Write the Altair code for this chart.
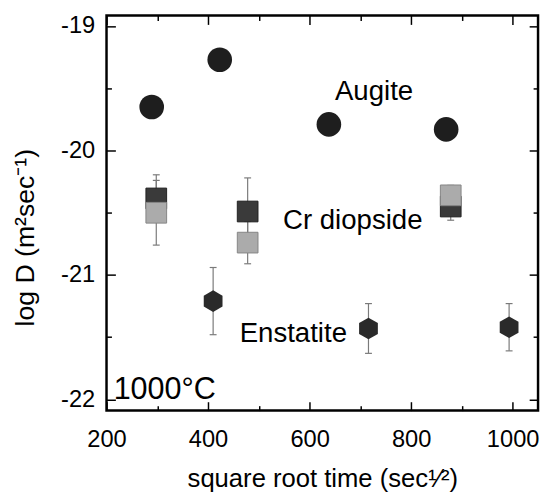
import altair as alt
import pandas as pd

# ---- data ----
augite_x = [289, 423, 638, 869]
augite_y = [-19.65, -19.27, -19.79, -19.83]

diop_x = [298, 478, 878]
diop_dark_y = [-20.385, -20.49, -20.45]
diop_dark_err = [0.19, 0.27, 0.11]
diop_light_y = [-20.50, -20.74, -20.36]
diop_light_err = [0.26, 0.17, 0.08]

enst_x = [410, 716, 993]
enst_y = [-21.21, -21.43, -21.42]
enst_err = [0.27, 0.20, 0.19]

x_major = [200, 400, 600, 800, 1000]
x_minor = [300, 500, 700, 900]
y_major = [-19, -20, -21, -22]
y_minor = [-19.5, -20.5, -21.5]

label_text = ["Augite", "Cr diopside", "Enstatite"]
label_x = [727, 685, 568]
label_y = [-19.59, -20.63, -21.535]

temp_text = ["1000°C"]
temp_x = [214]
temp_y = [-22.0]

x_title = "square root time (sec¹⁄²)"
y_title = "log D (m²sec⁻¹)"

FONT = "Liberation Sans, Arial, Helvetica, sans-serif"
HEX = "M0,-1L0.866,-0.5L0.866,0.5L0,1L-0.866,0.5L-0.866,-0.5Z"

# ---- tables ----
aug = pd.DataFrame({"x": augite_x, "y": augite_y})
dark = pd.DataFrame({"x": diop_x, "y": diop_dark_y, "e": diop_dark_err})
light = pd.DataFrame({"x": diop_x, "y": diop_light_y, "e": diop_light_err})
enst = pd.DataFrame({"x": enst_x, "y": enst_y, "e": enst_err})
err = pd.concat([dark, light, enst], ignore_index=True)
err["lo"] = err["y"] - err["e"]
err["hi"] = err["y"] + err["e"]
caps = pd.DataFrame({"x": list(err["x"]) * 2, "y": list(err["lo"]) + list(err["hi"])})
labels = pd.DataFrame({"x": label_x, "y": label_y, "t": label_text})
temp = pd.DataFrame({"x": temp_x, "y": temp_y, "t": temp_text})

xs = alt.Scale(domain=[200, 1050], nice=False, zero=False)
ys = alt.Scale(domain=[-22.09, -18.915], nice=False, zero=False)

MAJ = 9
MIN = 5


def ax(orient, values, size, **kw):
    return alt.Axis(orient=orient, values=values, tickSize=size, offset=-size,
                    domain=False, grid=False, ticks=True, tickColor="black",
                    tickWidth=1.5, **kw)


def plain(orient, values, size):
    return ax(orient, values, size, labels=False, title=None)


x_bottom = ax("bottom", x_major, MAJ, labels=True, labelFont=FONT, labelFontSize=24,
              labelColor="black", labelPadding=17, labelFlush=False,
              labelExpr="'' + datum.value",
              title=x_title, titleFont=FONT, titleFontSize=26, titleFontWeight="normal",
              titleColor="black", titlePadding=15)
y_left = ax("left", y_major, MAJ, labels=True, labelFont=FONT, labelFontSize=24,
            labelColor="black", labelPadding=12, labelFlush=False,
            labelExpr="'' + datum.value",
            title=y_title, titleFont=FONT, titleFontSize=27, titleFontWeight="normal",
            titleColor="black", titlePadding=21, titleY=225)

bars = alt.Chart(err).mark_rule(color="#7a7a7a", strokeWidth=1.2).encode(
    x=alt.X("x:Q", scale=xs, axis=None),
    y=alt.Y("lo:Q", scale=ys, axis=None),
    y2="hi:Q",
)
cap_marks = alt.Chart(caps).mark_tick(orient="horizontal", size=7, thickness=1.2,
                                      color="#7a7a7a", opacity=1).encode(
    x=alt.X("x:Q", scale=xs, axis=None),
    y=alt.Y("y:Q", scale=ys, axis=None),
)
aug_layer = alt.Chart(aug).mark_point(shape="circle", filled=True, size=625,
                                      color="#1e1e1e", opacity=1).encode(
    x=alt.X("x:Q", scale=xs, axis=x_bottom),
    y=alt.Y("y:Q", scale=ys, axis=y_left),
)
dark_layer = alt.Chart(dark).mark_point(shape="square", filled=True, size=441,
                                        color="#3a3a3a", stroke="#222222",
                                        strokeWidth=1, opacity=1).encode(
    x=alt.X("x:Q", scale=xs, axis=plain("bottom", x_minor, MIN)),
    y=alt.Y("y:Q", scale=ys, axis=plain("left", y_minor, MIN)),
)
light_layer = alt.Chart(light).mark_point(shape="square", filled=True, size=441,
                                          color="#ababab", stroke="#858585",
                                          strokeWidth=1, opacity=1).encode(
    x=alt.X("x:Q", scale=xs, axis=plain("top", x_major, MAJ)),
    y=alt.Y("y:Q", scale=ys, axis=plain("right", y_major, MAJ)),
)
enst_layer = alt.Chart(enst).mark_point(shape=HEX, filled=True, size=484,
                                        color="#2a2a2a", opacity=1).encode(
    x=alt.X("x:Q", scale=xs, axis=plain("top", x_minor, MIN)),
    y=alt.Y("y:Q", scale=ys, axis=plain("right", y_minor, MIN)),
)
label_layer = alt.Chart(labels).mark_text(font=FONT, fontSize=28, align="center",
                                          baseline="alphabetic", color="black").encode(
    x=alt.X("x:Q", scale=xs, axis=None),
    y=alt.Y("y:Q", scale=ys, axis=None),
    text="t:N",
)
temp_layer = alt.Chart(temp).mark_text(font=FONT, fontSize=31, align="left",
                                       baseline="alphabetic", color="black").encode(
    x=alt.X("x:Q", scale=xs, axis=None),
    y=alt.Y("y:Q", scale=ys, axis=None),
    text="t:N",
)

chart = alt.layer(
    bars, cap_marks, aug_layer, dark_layer, light_layer, enst_layer,
    label_layer, temp_layer,
).resolve_axis(x="independent", y="independent").properties(
    width=438, height=401,
    autosize=alt.AutoSizeParams(type="none"),
    padding={"left": 100, "top": 4, "right": 3, "bottom": 80},
).configure_view(stroke="black", strokeWidth=2.5)

chart.save("out.html", embed_options={"renderer": "svg", "actions": False})
